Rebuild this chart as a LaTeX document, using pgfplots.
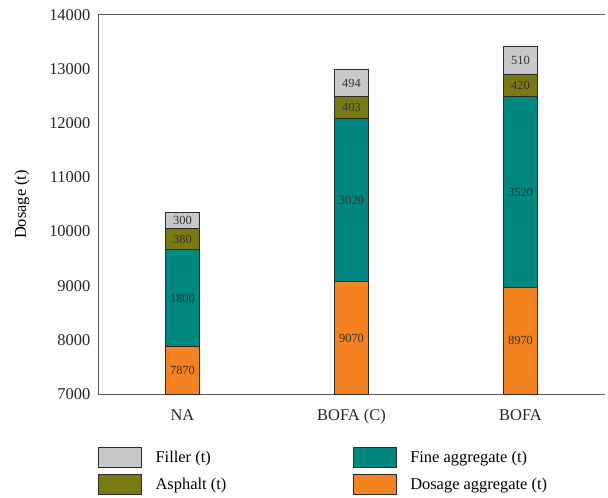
\documentclass[border=0pt]{standalone}
\usepackage{fontspec}
\setmainfont{Liberation Serif}
\usepackage{pgfplots}
\pgfplotsset{compat=1.18}
\usepackage{pgfplotstable}

\definecolor{fillercol}{HTML}{C8C8CA}
\definecolor{asphaltcol}{HTML}{7A7A12}
\definecolor{finecol}{HTML}{00877F}
\definecolor{dosagecol}{HTML}{F58220}
\definecolor{edgecol}{HTML}{2B2B2B}
\definecolor{labelcol}{HTML}{333333}

% material quantities per mix (t)
\pgfplotstableread{
x dosage fine asphalt filler
0 7870 1800 380 300
1 9070 3020 403 494
2 8970 3520 420 510
}\mixdata

\newcommand{\axfont}{\fontsize{16.5}{19}\selectfont}
\newcommand{\barfont}{\fontsize{12.5}{14}\selectfont}

\begin{document}
\begin{tikzpicture}
\begin{axis}[
  scale only axis, width=507bp, height=379bp,
  xmin=-0.5, xmax=2.5, ymin=7000, ymax=14000,
  ybar stacked, bar width=34bp,
  xtick={0,1,2}, xticklabels={NA, BOFA (C), BOFA},
  ytick={7000,8000,...,14000},
  scaled y ticks=false,
  axis x line=box, axis y line=left,
  axis line style={-, draw=black!65, line width=1pt},
  tick style={draw=none},
  /pgf/number format/assume math mode=true,
  /pgf/number format/set thousands separator={},
  ticklabel style={font=\axfont, text=black!85},
  xticklabel style={yshift=-12bp},
  yticklabel style={xshift=-2bp},
  ylabel={Dosage (t)},
  ylabel style={font=\axfont, at={(axis description cs:-0.15,0.5)}, anchor=center},
  legend image code/.code={\draw[#1] (0bp,-10bp) rectangle (43bp,10bp);},
  legend columns=2,
  legend cell align=left,
  legend style={draw=none, fill=none, font=\axfont,
    at={(axis description cs:0,-0.14)}, anchor=north west,
    inner sep=0pt, row sep=6bp,
    nodes={inner sep=1.5bp},
    /tikz/column 1/.style={column sep=12bp},
    /tikz/column 2/.style={column sep=125bp},
    /tikz/column 3/.style={column sep=12bp}},
  % values sit mid-segment; the lowest segment is centred on its visible part
  nodes near coords,
  every node near coord/.append style={font=\barfont, text=labelcol,
    anchor=center, shift={(axis direction cs:0,{\segoff})}},
]
\addplot+[forget plot, fill=dosagecol, draw=edgecol, line width=0.9pt,
  visualization depends on={7000/2 \as \segoff}]
  table[x=x, y=dosage] {\mixdata};
\addplot+[forget plot, fill=finecol, draw=edgecol, line width=0.9pt,
  visualization depends on={0 \as \segoff}]
  table[x=x, y=fine] {\mixdata};
\addplot+[forget plot, fill=asphaltcol, draw=edgecol, line width=0.9pt,
  visualization depends on={0 \as \segoff}]
  table[x=x, y=asphalt] {\mixdata};
\addplot+[forget plot, fill=fillercol, draw=edgecol, line width=0.9pt,
  visualization depends on={0 \as \segoff}]
  table[x=x, y=filler] {\mixdata};

\addlegendimage{fill=fillercol, draw=edgecol, line width=0.9pt}
\addlegendentry{Filler (t)}
\addlegendimage{fill=finecol, draw=edgecol, line width=0.9pt}
\addlegendentry{Fine aggregate (t)}
\addlegendimage{fill=asphaltcol, draw=edgecol, line width=0.9pt}
\addlegendentry{Asphalt (t)}
\addlegendimage{fill=dosagecol, draw=edgecol, line width=0.9pt}
\addlegendentry{Dosage aggregate (t)}
\end{axis}
\pgfresetboundingbox
\path[use as bounding box] (-98bp,-104bp) rectangle (510bp,394bp);
\end{tikzpicture}
\end{document}
